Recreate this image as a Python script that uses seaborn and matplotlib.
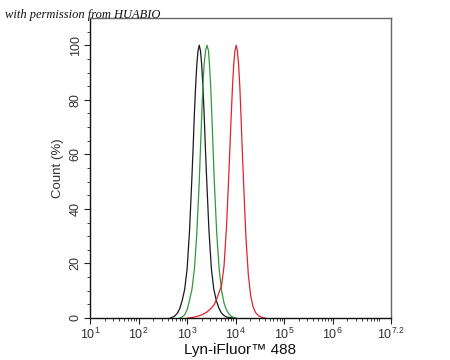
import numpy as np
import pandas as pd
import matplotlib
matplotlib.use("Agg")
import matplotlib.pyplot as plt
import seaborn as sns
from matplotlib.ticker import FixedLocator, NullFormatter

# ---- data (log10 intensity, count %) ----
black_log = [2.65, 2.70, 2.75, 2.80, 2.85, 2.90, 2.95, 3.00, 3.05, 3.10, 3.125, 3.15, 3.175, 3.20, 3.225, 3.25,
             3.275, 3.30, 3.325, 3.35, 3.375, 3.40, 3.45, 3.50, 3.55, 3.60, 3.65, 3.70, 3.75, 3.80, 3.85, 3.90, 3.95]
black_cnt = [0, 0.3, 0.8, 1.8, 3.5, 6.5, 10.5, 18, 32, 52, 63, 75, 85, 93, 98, 100,
             98, 93, 85, 75, 63, 52, 32, 18, 10.5, 6.5, 3.8, 2.0, 1.0, 0.5, 0.2, 0.1, 0]

green_log = [2.85, 2.90, 2.95, 3.00, 3.05, 3.10, 3.15, 3.20, 3.25, 3.275, 3.30, 3.325, 3.35, 3.38, 3.41,
             3.44, 3.46, 3.485, 3.51, 3.535, 3.56, 3.61, 3.66, 3.71, 3.76, 3.81, 3.86, 3.91, 3.96, 4.01]
green_cnt = [0, 0.4, 1.2, 3.0, 6.5, 10.5, 18, 31, 50, 62, 74, 85, 93, 98, 100,
             98, 93, 85, 74, 62, 50, 31, 18, 10, 5.5, 3.0, 1.5, 0.6, 0.2, 0]

red_log = [3.01, 3.11, 3.21, 3.31, 3.41, 3.51, 3.56, 3.61, 3.66, 3.71, 3.76, 3.81, 3.86, 3.885,
           3.91, 3.935, 3.96, 3.985, 4.01, 4.035, 4.06, 4.085, 4.11, 4.135, 4.16, 4.21, 4.26, 4.31,
           4.36, 4.41, 4.46, 4.51, 4.56, 4.61]
red_cnt = [0, 0.2, 0.6, 1.2, 2.2, 3.8, 5.0, 7.0, 9.5, 12, 19, 33, 53, 64,
           75, 85, 93, 98, 100, 98, 93, 85, 74, 62, 51, 30, 16, 8,
           4, 2, 1, 0.4, 0.1, 0]

series_names = ["black", "green", "red"]
series_colors = ["#1a1a1a", "#2f9a3a", "#e2232e"]

x_major = [1, 2, 3, 4, 5, 6, 7.2]
x_labels = ["10$^{1}$", "10$^{2}$", "10$^{3}$", "10$^{4}$", "10$^{5}$", "10$^{6}$", "10$^{7.2}$"]
y_major = [0, 20, 40, 60, 80, 100]

# ---- build table ----
frames = []
for name, lx, cy in [("black", black_log, black_cnt), ("green", green_log, green_cnt), ("red", red_log, red_cnt)]:
    frames.append(pd.DataFrame({"x": np.power(10.0, lx), "y": cy, "s": name}))
df = pd.concat(frames, ignore_index=True)

sns.set_style("ticks")
plt.rcParams["font.family"] = ["Liberation Sans", "DejaVu Sans"]
plt.rcParams["mathtext.default"] = "regular"

fig = plt.figure(figsize=(4.5, 3.6), dpi=100)
ax = fig.add_axes([0.2, 0.1167, 0.669, 0.8333])

sns.lineplot(data=df, x="x", y="y", hue="s", hue_order=series_names,
             palette=series_colors, linewidth=0.9, legend=False, ax=ax, sort=False)

ax.set_xscale("log")
ax.set_xlim(10, 10 ** 7.2)
ax.set_ylim(0, 110)

ax.xaxis.set_major_locator(FixedLocator([10 ** v for v in x_major]))
ax.set_xticklabels(x_labels, fontsize=9, color="#333333")
minors = [m * 10 ** d for d in range(1, 8) for m in range(2, 10) if m * 10 ** d < 10 ** 7.2]
ax.xaxis.set_minor_locator(FixedLocator(minors))
ax.xaxis.set_minor_formatter(NullFormatter())

ax.yaxis.set_major_locator(FixedLocator(y_major))
ax.yaxis.set_minor_locator(FixedLocator([v for v in range(0, 106, 5) if v % 20]))
ax.set_yticklabels([str(v) for v in y_major], fontsize=9, rotation=90, va="center", color="#333333")

ax.tick_params(axis="both", which="major", direction="out", length=4, width=0.8, color="#222222", pad=2)
ax.tick_params(axis="both", which="minor", direction="out", length=2, width=0.6, color="#222222")

for side in ["left", "bottom"]:
    ax.spines[side].set_color("#111111")
    ax.spines[side].set_linewidth(1.0)
for side in ["top", "right"]:
    ax.spines[side].set_visible(True)
    ax.spines[side].set_color("#666666")
    ax.spines[side].set_linewidth(1.0)

ax.set_xlabel("Lyn-iFluor\u2122 488", fontsize=11, color="#111111", labelpad=1)
ax.set_ylabel("Count (%)", fontsize=9.5, color="#333333", labelpad=4)

fig.text(0.012, 0.957, "with permission from HUABIO", fontsize=9, style="italic",
         family=["Liberation Serif", "DejaVu Serif"], color="#111111", va="center")

fig.savefig("out.png", dpi=100, facecolor="white")
